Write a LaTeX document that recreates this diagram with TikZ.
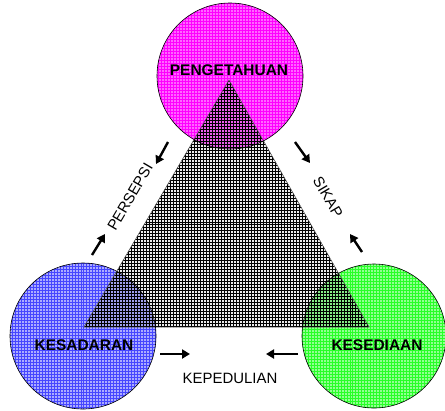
\documentclass[tikz,border=0pt]{standalone}
\usepackage{fontspec}
\setmainfont{Liberation Sans}
\usetikzlibrary{patterns,arrows.meta}
\definecolor{magC}{RGB}{255,0,255}
\definecolor{bluC}{RGB}{70,70,255}
\definecolor{grnC}{RGB}{40,255,40}
\begin{document}
\begin{tikzpicture}[x=1bp,y=-1bp,
  circpat/.style={pattern=grid, pattern color=#1},
  tri/.style={pattern=grid, pattern color=black, fill opacity=0.7},
  big/.style={font=\fontsize{15.5}{18}\selectfont\bfseries, text=black},
  side/.style={font=\fontsize{15}{18}\selectfont, text=black},
  arr/.style={line width=2.4bp, -{Triangle[length=8bp,width=9bp]}}]
\useasboundingbox (0,0) rectangle (445,410);
\fill[white] (0,0) rectangle (445,410);
% circles
\coordinate (cT) at (230,76);
\coordinate (cL) at (83,336);
\coordinate (cR) at (374,336);
\fill[magC!60] (cT) circle[radius=73];
\path[circpat=magC] (cT) circle[radius=73];
\fill[bluC!45] (cL) circle[radius=73];
\path[circpat=bluC] (cL) circle[radius=73];
\fill[grnC!50] (cR) circle[radius=72];
\path[circpat=grnC] (cR) circle[radius=72];
% triangle
\coordinate (A) at (229,80);
\coordinate (B) at (84,327);
\coordinate (C) at (369,327);
\fill[black, fill opacity=0.08] (A) -- (B) -- (C) -- cycle;
\path[tri] (A) -- (B) -- (C) -- cycle;
\draw[black!70, line width=0.5bp] (A) -- (B) -- (C) -- cycle;
% circle outlines
\draw[black, line width=0.6bp] (cT) circle[radius=73];
\draw[black, line width=0.6bp] (cL) circle[radius=73];
\draw[black, line width=0.6bp] (cR) circle[radius=72];
% labels
\node[big] (pen) at (229,70) {PENGETAHUAN};
\node[big] (kes) at (84,345) {KESADARAN};
\node[big] (ksd) at (377,345) {KESEDIAAN};
\node[side, rotate=59.6] (per) at (130,197) {PERSEPSI};
\node[side, rotate=-59.6] (sik) at (328,197) {SIKAP};
\node[side] (kep) at (230,378) {KEPEDULIAN};
% arrows
\coordinate (a1s) at (168,142); \coordinate (a1e) at (156,164);
\coordinate (a2s) at (92,255);  \coordinate (a2e) at (105,234);
\coordinate (a3s) at (295,142); \coordinate (a3e) at (310,163);
\coordinate (a4s) at (362,252); \coordinate (a4e) at (350,234);
\coordinate (a5s) at (160,354); \coordinate (a5e) at (190,354);
\coordinate (a6s) at (298,354); \coordinate (a6e) at (266,354);
\draw[arr] (a1s) -- (a1e);
\draw[arr] (a2s) -- (a2e);
\draw[arr] (a3s) -- (a3e);
\draw[arr] (a4s) -- (a4e);
\draw[arr] (a5s) -- (a5e);
\draw[arr] (a6s) -- (a6e);
\end{tikzpicture}
\end{document}
